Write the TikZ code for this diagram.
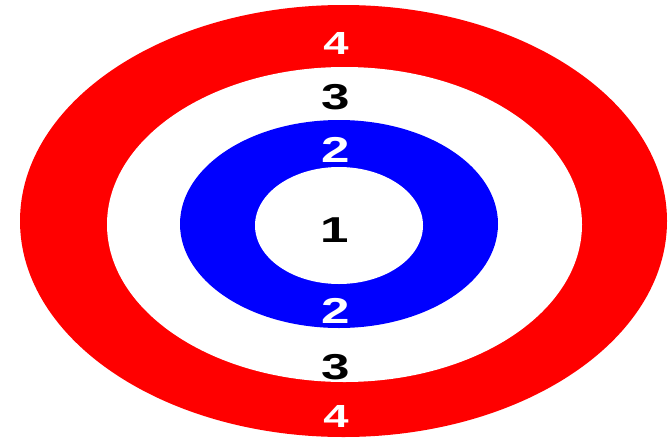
\documentclass[tikz,border=0pt]{standalone}
\usepackage{fontspec}
\setmainfont{Liberation Sans}
\begin{document}
\begin{tikzpicture}[x=1pt,y=-1pt,
  lbl/.style={font=\fontsize{36}{36}\selectfont\bfseries, inner sep=0pt, anchor=center, xscale=1.42},
  wl/.style={lbl, text=white},
  bl/.style={lbl, text=black},
  four/.style={wl, font=\fontsize{32}{32}\selectfont\bfseries}]
\useasboundingbox (0,0) rectangle (671,439);
\fill[red]   (343.5,221) ellipse [x radius=323.5, y radius=216];
\fill[white] (344.5,224.5) ellipse [x radius=237.5, y radius=157.5];
\fill[blue]  (339,224) ellipse [x radius=159, y radius=104];
\fill[white] (339,225.5) ellipse [x radius=84, y radius=58.5];
\node[four] (n4t) at (336,43) {4};
\node[bl] (n3t) at (336,97) {3};
\node[wl] (n2t) at (336,150) {2};
\node[bl] (n1)  at (335,230) {1};
\node[wl] (n2b) at (336,311) {2};
\node[bl] (n3b) at (336,367) {3};
\node[four] (n4b) at (336,416) {4};
\end{tikzpicture}
\end{document}
